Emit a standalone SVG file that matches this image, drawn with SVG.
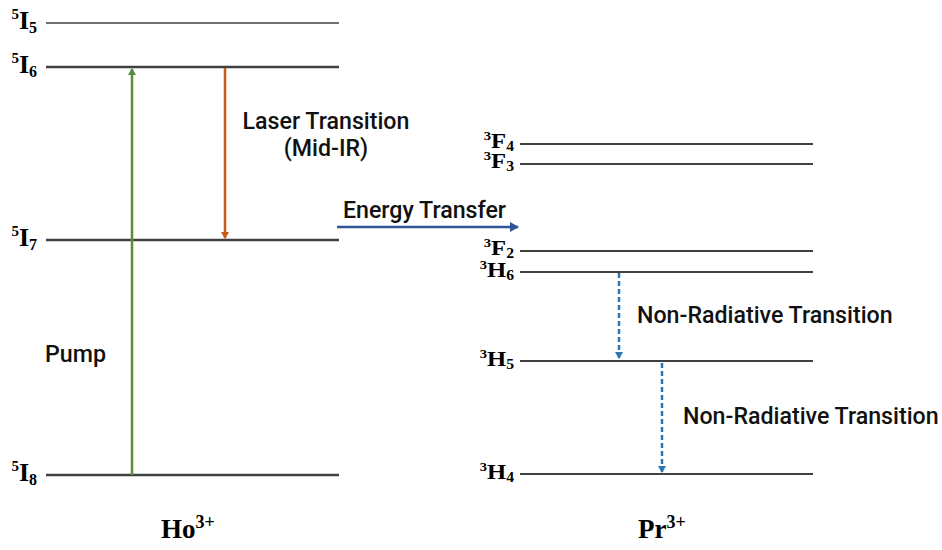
<svg xmlns="http://www.w3.org/2000/svg" width="942" height="550" viewBox="0 0 942 550">
<defs>
<style>
.lvl{stroke:#404040;stroke-width:2}
.lvlt{stroke:#404040;stroke-width:1.5}
.lvlk{stroke:#404040;stroke-width:2.5}
.lab{font-family:"Liberation Serif","Times New Roman",serif;font-weight:bold;fill:#000}
.labL{font-size:26px}
.labR{font-size:22px}
.supL{font-size:15px}
.subL{font-size:16px}
.supR{font-size:13px}
.subR{font-size:14px}
.txt{font-family:Roboto,"Liberation Sans",sans-serif;font-weight:500;font-size:23.2px;fill:#111}
.ion{font-family:"Liberation Serif","Times New Roman",serif;font-weight:bold;font-size:27px;fill:#000}
</style>
<marker id="agreen" markerWidth="10" markerHeight="10" refX="6" refY="4" orient="auto" markerUnits="userSpaceOnUse"><path d="M0,0 L7,4 L0,8 z" fill="#5b8c3b"/></marker>
<marker id="aorange" markerWidth="10" markerHeight="10" refX="6" refY="4" orient="auto" markerUnits="userSpaceOnUse"><path d="M0,0 L7,4 L0,8 z" fill="#c55a11"/></marker>
<marker id="ablue" markerWidth="12" markerHeight="12" refX="8" refY="5" orient="auto" markerUnits="userSpaceOnUse"><path d="M0,0 L9,5 L0,10 z" fill="#2f5597"/></marker>
<marker id="adash" markerWidth="10" markerHeight="10" refX="6" refY="4" orient="auto" markerUnits="userSpaceOnUse"><path d="M0,0 L7,4 L0,8 z" fill="#2e75b6"/></marker>
</defs>
<rect width="942" height="550" fill="#fff"/>

<g id="ho-levels">
<g id="I5"><line class="lvlt" x1="46" y1="23" x2="339" y2="23"/><text class="lab labL" x="37" y="29" text-anchor="end"><tspan class="supL" dy="-10">5</tspan><tspan dy="10">I</tspan><tspan class="subL" dy="4">5</tspan></text></g>
<g id="I6"><line class="lvlk" x1="46" y1="67" x2="339" y2="67"/><text class="lab labL" x="37" y="73" text-anchor="end"><tspan class="supL" dy="-10">5</tspan><tspan dy="10">I</tspan><tspan class="subL" dy="4">6</tspan></text></g>
<g id="I7"><line class="lvlk" x1="46" y1="240" x2="339" y2="240"/><text class="lab labL" x="37" y="246" text-anchor="end"><tspan class="supL" dy="-10">5</tspan><tspan dy="10">I</tspan><tspan class="subL" dy="4">7</tspan></text></g>
<g id="I8"><line class="lvlk" x1="46" y1="475" x2="339" y2="475"/><text class="lab labL" x="37" y="481" text-anchor="end"><tspan class="supL" dy="-10">5</tspan><tspan dy="10">I</tspan><tspan class="subL" dy="4">8</tspan></text></g>
</g>

<g id="pr-levels">
<g id="F4"><line class="lvl" x1="520" y1="144" x2="813" y2="144"/><text class="lab labR" transform="translate(514,148) scale(1.12,1)" text-anchor="end"><tspan class="supR" dy="-8">3</tspan><tspan dy="8">F</tspan><tspan class="subR" dy="3">4</tspan></text></g>
<g id="F3"><line class="lvl" x1="520" y1="164" x2="813" y2="164"/><text class="lab labR" transform="translate(514,168) scale(1.12,1)" text-anchor="end"><tspan class="supR" dy="-8">3</tspan><tspan dy="8">F</tspan><tspan class="subR" dy="3">3</tspan></text></g>
<g id="F2"><line class="lvl" x1="520" y1="251" x2="813" y2="251"/><text class="lab labR" transform="translate(514,255) scale(1.12,1)" text-anchor="end"><tspan class="supR" dy="-8">3</tspan><tspan dy="8">F</tspan><tspan class="subR" dy="3">2</tspan></text></g>
<g id="H6"><line class="lvl" x1="520" y1="272" x2="813" y2="272"/><text class="lab labR" transform="translate(514,277) scale(1.12,1)" text-anchor="end"><tspan class="supR" dy="-8">3</tspan><tspan dy="8">H</tspan><tspan class="subR" dy="3">6</tspan></text></g>
<g id="H5"><line class="lvl" x1="520" y1="361" x2="813" y2="361"/><text class="lab labR" transform="translate(514,366) scale(1.12,1)" text-anchor="end"><tspan class="supR" dy="-8">3</tspan><tspan dy="8">H</tspan><tspan class="subR" dy="3">5</tspan></text></g>
<g id="H4"><line class="lvl" x1="520" y1="474" x2="813" y2="474"/><text class="lab labR" transform="translate(514,479) scale(1.12,1)" text-anchor="end"><tspan class="supR" dy="-8">3</tspan><tspan dy="8">H</tspan><tspan class="subR" dy="3">4</tspan></text></g>
</g>

<g id="connectors">
<line x1="132" y1="475" x2="132" y2="69" stroke="#5b8c3b" stroke-width="2.5" marker-end="url(#agreen)"/>
<line x1="225" y1="68" x2="225" y2="238" stroke="#c55a11" stroke-width="2.5" marker-end="url(#aorange)"/>
<line x1="337" y1="227" x2="518" y2="227" stroke="#2f5597" stroke-width="2.5" marker-end="url(#ablue)"/>
<line x1="619" y1="273" x2="619" y2="358" stroke="#2e75b6" stroke-width="2.5" stroke-dasharray="5,3" marker-end="url(#adash)"/>
<line x1="662" y1="363" x2="662" y2="472" stroke="#2e75b6" stroke-width="2.5" stroke-dasharray="5,3" marker-end="url(#adash)"/>
</g>

<g id="labels">
<text class="txt" x="326" y="129" text-anchor="middle">Laser Transition</text>
<text class="txt" x="326" y="156" text-anchor="middle">(Mid-IR)</text>
<text class="txt" x="424.5" y="218" text-anchor="middle">Energy Transfer</text>
<text class="txt" x="45" y="362">Pump</text>
<text class="txt" x="637" y="323">Non-Radiative Transition</text>
<text class="txt" x="683" y="424">Non-Radiative Transition</text>
</g>

<g id="ions">
<text class="ion" x="161" y="538">Ho<tspan font-size="18" dy="-10">3+</tspan></text>
<text class="ion" x="638" y="538">Pr<tspan font-size="18" dy="-10">3+</tspan></text>
</g>
</svg>
